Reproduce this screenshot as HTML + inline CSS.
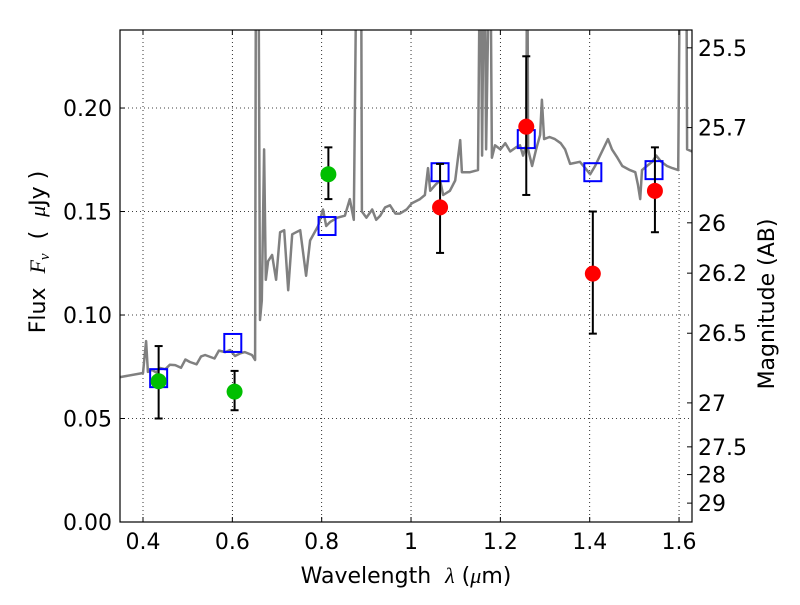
<!DOCTYPE html>
<html><head><meta charset="utf-8"><style>
html,body{margin:0;padding:0;background:#fff;}
svg text{font-family:"DejaVu Sans","Liberation Sans",sans-serif;fill:#000;white-space:pre;}
</style></head><body>
<svg id="chart" width="800" height="600" xmlns="http://www.w3.org/2000/svg"></svg>
<script>
const specWave=[0.3485,0.400,0.407,0.411,0.420,0.430,0.438,0.450,0.460,0.472,0.485,0.495,0.505,0.520,0.530,0.539,0.560,0.570,0.584,0.595,0.606,0.618,0.628,0.644,0.651,0.653,0.658,0.662,0.666,0.671,0.675,0.680,0.689,0.698,0.707,0.716,0.725,0.734,0.743,0.752,0.765,0.774,0.792,0.803,0.810,0.819,0.835,0.852,0.863,0.872,0.879,0.888,0.890,0.900,0.913,0.922,0.931,0.942,0.953,0.965,0.975,0.990,1.002,1.020,1.031,1.038,1.043,1.055,1.065,1.072,1.087,1.099,1.110,1.114,1.132,1.150,1.155,1.159,1.164,1.168,1.177,1.181,1.188,1.200,1.211,1.222,1.235,1.244,1.251,1.258,1.260,1.262,1.271,1.280,1.289,1.293,1.298,1.310,1.322,1.335,1.345,1.356,1.378,1.390,1.401,1.412,1.423,1.441,1.450,1.462,1.473,1.490,1.502,1.508,1.513,1.517,1.528,1.540,1.549,1.560,1.573,1.585,1.598,1.603,1.616,1.618,1.629];
const specFlux=[0.070,0.072,0.0874,0.0725,0.0735,0.0722,0.0744,0.0738,0.0760,0.0758,0.0745,0.0785,0.0773,0.0762,0.0800,0.0807,0.0790,0.0828,0.0821,0.0831,0.0802,0.0815,0.0821,0.0807,0.0783,0.30,0.30,0.0976,0.107,0.180,0.117,0.126,0.129,0.117,0.140,0.141,0.112,0.139,0.140,0.141,0.119,0.136,0.143,0.151,0.143,0.145,0.147,0.148,0.156,0.146,0.30,0.30,0.150,0.147,0.151,0.146,0.148,0.152,0.153,0.149,0.149,0.151,0.154,0.156,0.158,0.171,0.160,0.163,0.165,0.158,0.160,0.165,0.1845,0.169,0.169,0.170,0.30,0.177,0.30,0.180,0.30,0.176,0.182,0.180,0.183,0.179,0.181,0.182,0.177,0.182,0.30,0.180,0.172,0.180,0.187,0.204,0.185,0.186,0.185,0.183,0.180,0.173,0.174,0.171,0.168,0.172,0.177,0.185,0.180,0.176,0.172,0.170,0.169,0.163,0.156,0.170,0.172,0.174,0.177,0.174,0.172,0.171,0.170,0.30,0.30,0.180,0.179];
const greenWave=[0.435,0.605,0.815];
const greenFlux=[0.068,0.063,0.168];
const greenErrLo=[0.050,0.054,0.156];
const greenErrHi=[0.085,0.073,0.181];
const redWave=[1.065,1.258,1.407,1.546];
const redFlux=[0.152,0.191,0.120,0.160];
const redErrLo=[0.130,0.158,0.091,0.140];
const redErrHi=[0.173,0.225,0.150,0.181];
const modelWave=[0.435,0.601,0.812,1.065,1.258,1.407,1.544];
const modelFlux=[0.0695,0.0865,0.143,0.169,0.185,0.169,0.170];
const xTicks=[0.4,0.6,0.8,1.0,1.2,1.4,1.6];
const xTickLabels=["0.4","0.6","0.8","1","1.2","1.4","1.6"];
const yTicks=[0,0.05,0.10,0.15,0.20];
const yTickLabels=["0.00","0.05","0.10","0.15","0.20"];
const magTicks=[25.5,25.7,26,26.2,26.5,27,27.5,28,29];
const magTickLabels=["25.5","25.7","26","26.2","26.5","27","27.5","28","29"];

const L=120,R=692,T=30,B=522;
const xMin=0.3485,xMax=1.629,yMin=0,yMax=0.2377;
const sx=v=>L+(v-xMin)/(xMax-xMin)*(R-L);
const sy=v=>B-(v-yMin)/(yMax-yMin)*(B-T);
const NS="http://www.w3.org/2000/svg";
const svg=document.getElementById('chart');
function mk(tag,attrs,parent){const e=document.createElementNS(NS,tag);for(const k in attrs)e.setAttribute(k,attrs[k]);(parent||svg).appendChild(e);return e;}

const defs=mk('defs',{});
const cp=mk('clipPath',{id:'pc'},defs);
mk('rect',{x:L,y:T,width:R-L,height:B-T},cp);

const grid=mk('g',{});


xTicks.forEach(t=>{mk('line',{x1:sx(t),x2:sx(t),y1:T,y2:B,stroke:'#000','stroke-width':0.8,'stroke-dasharray':'1,3'},grid);});
yTicks.forEach(t=>{mk('line',{x1:L,x2:R,y1:sy(t),y2:sy(t),stroke:'#000','stroke-width':0.8,'stroke-dasharray':'1,3'},grid);});

const plot=mk('g',{'clip-path':'url(#pc)'});
let d='';
specWave.forEach((w,i)=>{d+=(i?'L':'M')+sx(w).toFixed(1)+','+sy(specFlux[i]).toFixed(1);});
const sp=mk('path',{d:d,fill:'none',stroke:'#808080','stroke-width':2.5,'stroke-linejoin':'round'},plot);



modelWave.forEach((w,i)=>{
  const r=mk('rect',{x:sx(w)-8.5,y:sy(modelFlux[i])-9,width:17,height:18,fill:'none',stroke:'#0000ff','stroke-width':2},plot);
  
  
});

function errs(wv,lo,hi,name){
  wv.forEach((w,i)=>{
    const g=mk('g',{stroke:'#000','stroke-width':2},plot);
    
    
    const x=sx(w);
    mk('line',{x1:x,x2:x,y1:sy(lo[i]),y2:sy(hi[i])},g);
    mk('line',{x1:x-4,x2:x+4,y1:sy(lo[i]),y2:sy(lo[i])},g);
    mk('line',{x1:x-4,x2:x+4,y1:sy(hi[i]),y2:sy(hi[i])},g);
  });
}
errs(greenWave,greenErrLo,greenErrHi,'green-error-bar');
errs(redWave,redErrLo,redErrHi,'red-error-bar');
greenWave.forEach((w,i)=>{
  const c=mk('circle',{cx:sx(w),cy:sy(greenFlux[i]),r:8,fill:'#00bf00'},plot);
  
  
});
redWave.forEach((w,i)=>{
  const c=mk('circle',{cx:sx(w),cy:sy(redFlux[i]),r:8,fill:'#ff0000'},plot);
  
  
});

const fr=mk('rect',{x:L,y:T,width:R-L,height:B-T,fill:'none',stroke:'#000','stroke-width':1.2});



const xa=mk('g',{});


xTicks.forEach((t,i)=>{
  const x=sx(t);
  mk('line',{x1:x,x2:x,y1:B,y2:B-5,stroke:'#000'},xa);
  mk('line',{x1:x,x2:x,y1:T,y2:T+5,stroke:'#000'},xa);
  const tx=mk('text',{x:x,y:B+27,'text-anchor':'middle','font-size':22},xa);
  tx.textContent=xTickLabels[i];
});
const ya=mk('g',{});


yTicks.forEach((t,i)=>{
  const y=sy(t);
  mk('line',{x1:L,x2:L+5,y1:y,y2:y,stroke:'#000'},ya);
  const tx=mk('text',{x:L-8,y:y+8,'text-anchor':'end','font-size':22},ya);
  tx.textContent=yTickLabels[i];
});
const ma=mk('g',{});


magTicks.forEach((m,i)=>{
  const y=sy(Math.pow(10,-0.4*(m-23.9)));
  mk('line',{x1:R,x2:R-5,y1:y,y2:y,stroke:'#000'},ma);
  const tx=mk('text',{x:R+6,y:y+8,'font-size':22},ma);
  tx.textContent=magTickLabels[i];
});

const xt=mk('text',{x:406,y:583,'text-anchor':'middle','font-size':22});


xt.innerHTML='Wavelength  <tspan font-family="Liberation Serif" font-style="italic">λ</tspan> (<tspan font-family="Liberation Serif" font-style="italic">μ</tspan>m)';
const yt=mk('text',{x:0,y:0,'text-anchor':'middle','font-size':22,transform:'translate(45,252) rotate(-90)'});


yt.innerHTML='Flux  <tspan font-family="Liberation Serif" font-style="italic">F</tspan><tspan font-family="Liberation Serif" font-style="italic" font-size="15" dy="4">ν</tspan><tspan dy="-4">  (  </tspan><tspan font-family="Liberation Serif" font-style="italic">μ</tspan>Jy )';
const rt=mk('text',{x:0,y:0,'text-anchor':'middle','font-size':22,transform:'translate(774,304) rotate(-90)'});


rt.textContent='Magnitude (AB)';
</script>
</body></html>
